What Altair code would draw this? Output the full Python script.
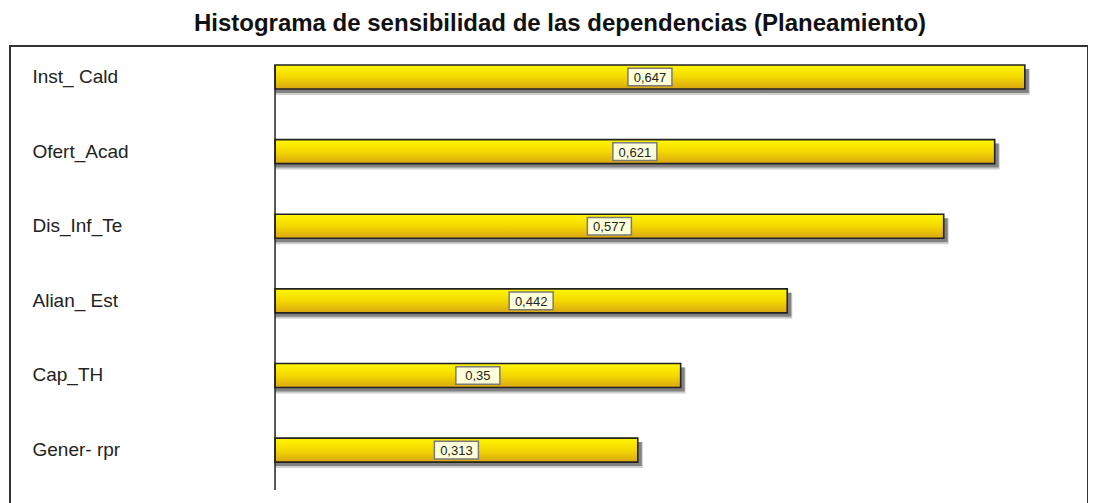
import altair as alt
import pandas as pd

categories = ["Inst_ Cald", "Ofert_Acad", "Dis_Inf_Te", "Alian_ Est", "Cap_TH", "Gener- rpr"]
values = [0.647, 0.621, 0.577, 0.442, 0.35, 0.313]

df = pd.DataFrame({"cat": categories, "v": values})
df["label"] = [("%g" % v).replace(".", ",") for v in values]

x_scale = alt.Scale(domain=[-0.2287, 0.7015], nice=False, zero=False)
y_scale = alt.Scale(domain=categories, paddingInner=0.169, paddingOuter=0.167, align=0)

base = alt.Chart(df)

y_enc = alt.Y("cat:N", scale=y_scale, sort=None, title=None,
              axis=alt.Axis(offset=-265, domain=False, ticks=False, tickSize=0,
                            labelAlign="left", labelPadding=243, labelFontSize=19,
                            labelFont="Liberation Sans", labelColor="#222222",
                            labelBaseline="middle"))

shadow2 = base.mark_bar(size=26, color="#b0b0b0", opacity=0.6, xOffset=5, yOffset=5).encode(
    x=alt.X("v:Q", scale=x_scale, axis=None),
    x2=alt.datum(0),
    y=y_enc,
)

shadow = base.mark_bar(size=24, color="#6e6e6e", opacity=0.8, xOffset=4, yOffset=4).encode(
    x=alt.X("v:Q", scale=x_scale, axis=None),
    x2=alt.datum(0),
    y=alt.Y("cat:N", scale=y_scale, sort=None),
)

bars = base.mark_bar(
    size=24,
    stroke="#222222",
    strokeWidth=1.6,
    color=alt.Gradient(
        gradient="linear",
        stops=[alt.GradientStop(color="#fff700", offset=0),
               alt.GradientStop(color="#f4d800", offset=0.5),
               alt.GradientStop(color="#daa614", offset=1)],
        x1=0, x2=0, y1=0, y2=1,
    ),
).encode(
    x=alt.X("v:Q", scale=x_scale, axis=None),
    x2=alt.datum(0),
    y=alt.Y("cat:N", scale=y_scale, sort=None),
)

axis_line = alt.Chart(pd.DataFrame({"a": [categories[0]], "b": [categories[-1]]})).mark_rule(
    color="#222222", strokeWidth=1.5, yOffset=-12, y2Offset=40
).encode(
    x=alt.X("z:Q", scale=x_scale),
    y=alt.Y("a:N", scale=y_scale, sort=None),
    y2="b:N",
).transform_calculate(z="0")

boxes = base.mark_point(
    shape="M-1,-0.4L1,-0.4L1,0.4L-1,0.4Z",
    size=1936,
    filled=True,
    fill="#ffffd9",
    stroke="#7a7a7a",
    strokeWidth=1.5,
    opacity=1,
).encode(
    x=alt.X("mid:Q", scale=x_scale),
    y=alt.Y("cat:N", scale=y_scale, sort=None),
).transform_calculate(mid="datum.v / 2")

texts = base.mark_text(fontSize=13, font="Liberation Sans", color="#222222", dy=1).encode(
    x=alt.X("mid:Q", scale=x_scale),
    y=alt.Y("cat:N", scale=y_scale, sort=None),
    text="label:N",
).transform_calculate(mid="datum.v / 2")

chart = alt.layer(shadow2, shadow, bars, axis_line, boxes, texts).properties(
    width=1078,
    height=460,
    padding={"left": 2, "top": 4, "right": 0, "bottom": 0},
    title=alt.TitleParams(
        "Histograma de sensibilidad de las dependencias (Planeamiento)",
        fontSize=24, font="Liberation Sans", fontWeight="bold", color="#111111",
        anchor="middle", dx=11, offset=10,
    ),
).configure_view(stroke="#333333", strokeWidth=2)

chart.save("out.html", embed_options={"renderer": "svg", "actions": False})
